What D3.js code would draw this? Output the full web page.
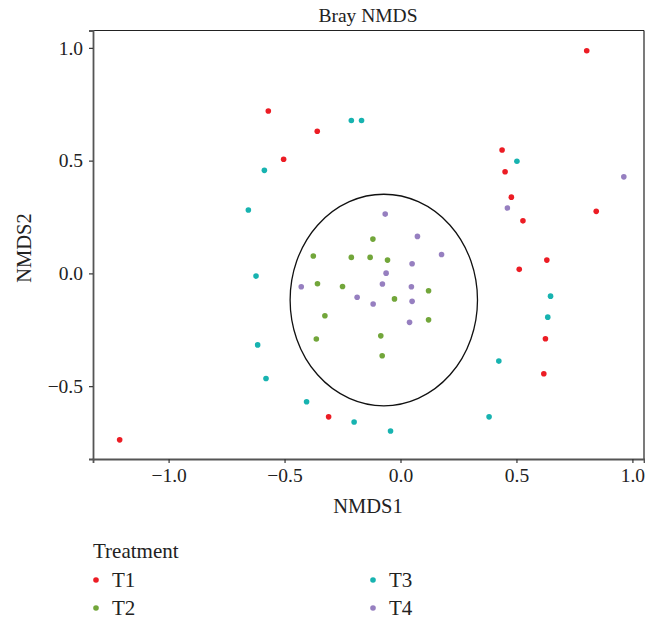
<!DOCTYPE html>
<html>
<head>
<meta charset="utf-8">
<script src="https://cdn.jsdelivr.net/npm/d3@7"></script>
<style>
    body { margin: 0; background: #fff; }
    svg text { font-family: "Liberation Serif", "DejaVu Serif", serif; fill: #222; }
</style>
</head>
<body>
<div id="chart"></div>
<script>
// Bray NMDS ordination, points per treatment

const TREATMENTS = ['T1', 'T2', 'T3', 'T4'];
const COLORS = ['#ec1c24', '#72a63a', '#17b3b0', '#967fc0'];

const T1 = [
    [-0.570, 0.720], [-0.359, 0.630], [-0.504, 0.506], [0.803, 0.987],
    [0.438, 0.547], [0.451, 0.451], [0.478, 0.338], [0.844, 0.275],
    [0.528, 0.233], [0.631, 0.059], [0.512, 0.018], [0.625, -0.290],
    [0.618, -0.445], [-0.310, -0.636], [-1.211, -0.738]
];
const T2 = [
    [-0.119, 0.152], [-0.376, 0.077], [-0.212, 0.071], [-0.131, 0.071],
    [-0.056, 0.059], [-0.358, -0.046], [-0.250, -0.058], [0.121, -0.077],
    [-0.026, -0.113], [-0.326, -0.188], [0.121, -0.206], [-0.363, -0.291],
    [-0.085, -0.277], [-0.079, -0.365]
];
const T3 = [
    [-0.587, 0.457], [-0.656, 0.281], [-0.212, 0.678], [-0.168, 0.678],
    [0.502, 0.497], [-0.623, -0.012], [-0.616, -0.317], [-0.580, -0.466],
    [-0.405, -0.569], [0.647, -0.101], [0.635, -0.194], [0.424, -0.389],
    [0.382, -0.636], [-0.200, -0.659], [-0.043, -0.699]
];
const T4 = [
    [-0.066, 0.263], [0.073, 0.164], [0.177, 0.084], [0.050, 0.043],
    [-0.062, 0.001], [-0.428, -0.059], [-0.078, -0.047], [0.047, -0.059],
    [-0.187, -0.106], [-0.118, -0.136], [0.050, -0.124], [0.039, -0.217],
    [0.963, 0.428], [0.461, 0.290]
];
const SERIES = [T1, T2, T3, T4];

// ellipse: centre and radii in NMDS units
const ELLIPSE_CENTER = [-0.072, -0.118];
const ELLIPSE_RADII = [0.404, 0.469];

const X_TICKS = [-1.0, -0.5, 0.0, 0.5, 1.0];
const Y_TICKS = [-0.5, 0.0, 0.5, 1.0];

const width = 645, height = 620;
const margin = { top: 30.5, right: 1, bottom: 161, left: 93 };
const serif = '"Liberation Serif", "DejaVu Serif", serif';

const svg = d3.select('#chart').append('svg')
    .attr('width', width)
    .attr('height', height);

const x = d3.scaleLinear()
    .domain([-1.326, 1.050])
    .range([margin.left, width - margin.right]);

const y = d3.scaleLinear()
    .domain([-0.823, 1.077])
    .range([height - margin.bottom, margin.top]);

// title
svg.append('text')
    .attr('x', 368)
    .attr('y', 22)
    .attr('text-anchor', 'middle')
    .style('font-size', '19.5px')
    .text('Bray NMDS');

// frame: thin top/right
svg.append('line')
    .attr('x1', margin.left).attr('x2', width - margin.right)
    .attr('y1', margin.top).attr('y2', margin.top)
    .attr('stroke', '#222').attr('stroke-width', 1.2);
svg.append('line')
    .attr('x1', width - margin.right).attr('x2', width - margin.right)
    .attr('y1', margin.top).attr('y2', height - margin.bottom)
    .attr('stroke', '#222').attr('stroke-width', 1.2);

// axes
const fmt = d => d3.format('.1f')(d).replace('-', '\u2212');
const xAxis = svg.append('g')
    .attr('transform', `translate(0,${height - margin.bottom})`)
    .call(d3.axisBottom(x).tickValues(X_TICKS).tickSize(4).tickPadding(5).tickFormat(fmt));

const yAxis = svg.append('g')
    .attr('transform', `translate(${margin.left},0)`)
    .call(d3.axisLeft(y).tickValues(Y_TICKS).tickSize(4).tickPadding(6).tickFormat(fmt));

[xAxis, yAxis].forEach(g => {
    g.select('.domain').attr('stroke', '#555').attr('stroke-width', 1.8);
    g.selectAll('.tick line').attr('stroke', '#333').attr('stroke-width', 1.2);
    g.selectAll('.tick text')
        .style('font-size', '19.5px')
        .style('font-family', serif)
        .attr('fill', '#222');
});

// axis titles
svg.append('text')
    .attr('x', 368)
    .attr('y', 513)
    .attr('text-anchor', 'middle')
    .style('font-size', '20.5px')
    .text('NMDS1');

svg.append('text')
    .attr('transform', 'translate(31,248) rotate(-90)')
    .attr('text-anchor', 'middle')
    .style('font-size', '20.5px')
    .text('NMDS2');

// ellipse
svg.append('ellipse')
    .attr('cx', x(ELLIPSE_CENTER[0]))
    .attr('cy', y(ELLIPSE_CENTER[1]))
    .attr('rx', x(ELLIPSE_CENTER[0] + ELLIPSE_RADII[0]) - x(ELLIPSE_CENTER[0]))
    .attr('ry', y(ELLIPSE_CENTER[1]) - y(ELLIPSE_CENTER[1] + ELLIPSE_RADII[1]))
    .attr('fill', 'none')
    .attr('stroke', '#111')
    .attr('stroke-width', 1.3);

// points
SERIES.forEach((pts, i) => {
    svg.append('g')
        .selectAll('circle')
        .data(pts)
        .enter()
        .append('circle')
        .attr('cx', d => x(d[0]))
        .attr('cy', d => y(d[1]))
        .attr('r', 2.8)
        .attr('fill', COLORS[i]);
});

// legend
const legend = svg.append('g');
legend.append('text')
    .attr('x', 93)
    .attr('y', 558)
    .style('font-size', '21px')
    .text('Treatment');

TREATMENTS.forEach((t, i) => {
    const col = Math.floor(i / 2);
    const row = i % 2;
    const lx = 96 + col * 277;
    const ly = 580 + row * 28;
    legend.append('circle')
        .attr('cx', lx)
        .attr('cy', ly)
        .attr('r', 2.8)
        .attr('fill', COLORS[i]);
    legend.append('text')
        .attr('x', lx + 16)
        .attr('y', ly + 7)
        .style('font-size', '21px')
        .text(t);
});
</script>
</body>
</html>
